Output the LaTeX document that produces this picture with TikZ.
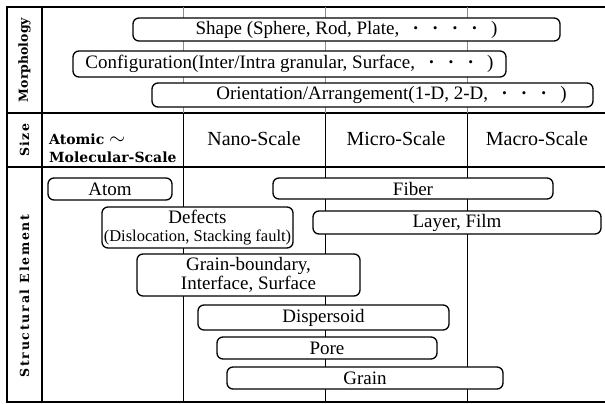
\documentclass[tikz,border=0pt]{standalone}
\usepackage{fontspec}
\setmainfont{Liberation Serif}
\newfontfamily\headfont{DejaVu Serif}
\usetikzlibrary{positioning}

\tikzset{
  elem/.style={draw, line width=1.3pt, rounded corners=6pt, fill=white, inner sep=0pt,
    align=center, font=\fontsize{19}{19.5}\selectfont},
  gridline/.style={line width=1.3pt},
  faintline/.style={line width=0.6pt, black!45},
  rowlabel/.style={rotate=90, font=\headfont\bfseries\fontsize{12.5}{14}\selectfont},
  scalelabel/.style={font=\fontsize{20}{20}\selectfont},
  sizehead/.style={anchor=west, inner sep=0pt, font=\headfont\bfseries\fontsize{14}{15}\selectfont}
}
\newcommand{\spdots}[1]{\foreach \i in {1,...,#1}{\hspace{0.7em}\textbf{·}}\hspace{0.7em}}

\begin{document}
\begin{tikzpicture}[x=1pt, y=-1pt]
    \useasboundingbox (0,0) rectangle (605,404);
    % table
    \draw[gridline] (605,7) -- (7,7) -- (7,402) -- (605,402);
    \draw[gridline] (42,7) -- (42,402);
    \draw[gridline] (7,113) -- (605,113) (7,167) -- (605,167);
    \foreach \x in {183,325,467} {
        \draw[faintline] (\x,7) -- (\x,113);
        \draw[gridline, line width=1pt] (\x,113) -- (\x,402);
    }
    % row labels
    \node[rowlabel] (morph) at (24.5,60) {Morphology};
    \node[rowlabel] (size) at (24.5,140) {\addfontfeature{LetterSpace=10}Size};
    \node[rowlabel] (struct) at (24.5,296) {\addfontfeature{LetterSpace=14}Structural Element};
    % scales
    \node[sizehead] (atomic) at (49,139) {Atomic {\fontsize{22}{22}\selectfont$\sim$}};
    \node[sizehead] (molec) at (49,157) {Molecular-Scale};
    \node[scalelabel] (nano) at (254,139) {Nano-Scale};
    \node[scalelabel] (micro) at (396,139) {Micro-Scale};
    \node[scalelabel] (macro) at (537,139) {Macro-Scale};
    % morphology
    \node[elem, minimum width=427pt, minimum height=23pt] (shape) at (346.5,29.5)
        {Shape (Sphere, Rod, Plate,\spdots{4})};
    \node[elem, minimum width=433pt, minimum height=26pt] (config) at (289.5,64)
        {Configuration(Inter/Intra granular, Surface,\spdots{3})};
    \node[elem, minimum width=441pt, minimum height=24pt] (orient) at (372.5,95)
        {\hspace{2em}Orientation/Arrangement(1-D, 2-D,\spdots{3})};
    % structural elements
    \node[elem, minimum width=124pt, minimum height=22pt] (atom) at (110,189) {Atom};
    \node[elem, minimum width=280pt, minimum height=21pt] (fiber) at (413,188.5) {Fiber};
    \node[elem, minimum width=191pt, minimum height=41pt] (defects) at (197.5,227.5)
        {Defects\\[-1pt]{\fontsize{16.5}{16.5}\selectfont(Dislocation, Stacking fault)}};
    \node[elem, minimum width=288pt, minimum height=23pt] (layer) at (457,222.5) {Layer, Film};
    \node[elem, minimum width=223pt, minimum height=42pt] (gb) at (248.5,275)
        {Grain-boundary,\\Interface, Surface};
    \node[elem, minimum width=251pt, minimum height=25pt] (disp) at (323.5,317.5) {Dispersoid};
    \node[elem, minimum width=220pt, minimum height=22pt] (pore) at (327,348) {Pore};
    \node[elem, minimum width=276pt, minimum height=22pt] (grain) at (365,378) {Grain};
\end{tikzpicture}
\end{document}
